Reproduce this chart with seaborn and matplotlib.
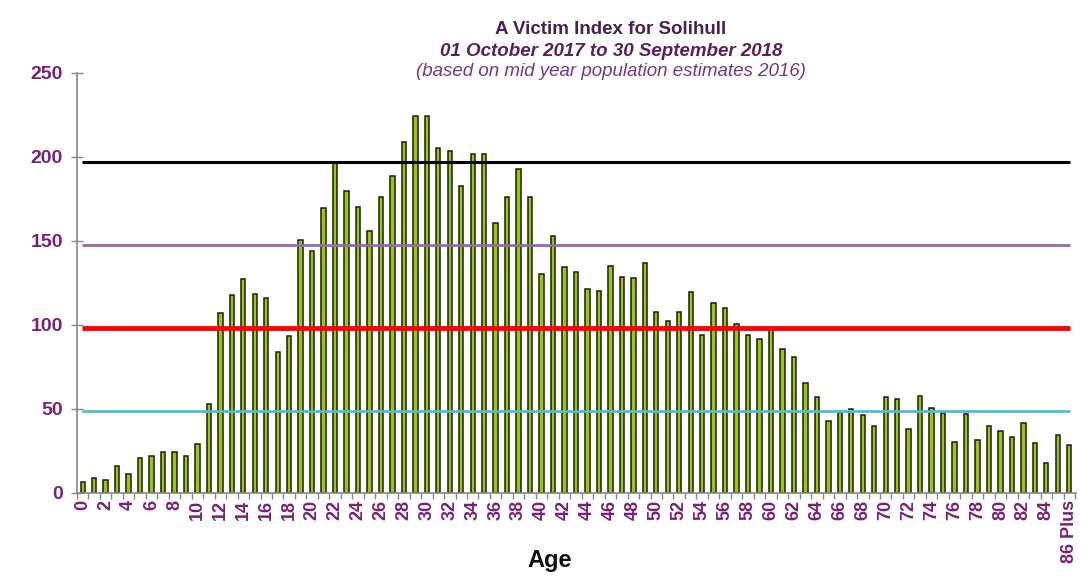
import numpy as np
import pandas as pd
import seaborn as sns
import matplotlib
matplotlib.use("Agg")
import matplotlib.pyplot as plt

# victim index per age (0..85, then 86 plus)
ages = [str(a) for a in range(86)] + ["86 Plus"]
index_values = [
  6.7, 9.1, 7.7, 16.2, 11.3, 20.8, 21.8, 24.6, 24.2, 21.8,
  28.9, 53.1, 107.4, 118.1, 127.2, 118.7, 116.1, 83.8, 93.5, 150.6,
  144.2, 169.4, 196.5, 179.9, 170.4, 155.9, 175.9, 188.4, 209.0, 224.2,
  224.2, 205.4, 203.4, 182.8, 202.0, 201.5, 160.5, 176.3, 193.0, 175.9,
  130.3, 152.9, 134.3, 131.3, 121.2, 120.2, 135.3, 128.8, 127.8, 136.7,
  107.8, 102.6, 107.8, 119.7, 93.9, 112.8, 110.1, 100.6, 94.1, 91.7,
  98.1, 85.6, 81.0, 65.4, 57.1, 42.6, 48.1, 50.1, 46.6, 40.0,
  57.1, 56.1, 38.0, 57.6, 50.7, 47.5, 30.3, 47.1, 31.3, 39.8,
  37.0, 33.5, 41.6, 29.9, 17.8, 34.3, 28.3,
]
# reference lines: 200%, 150%, 100%, 50% of the average
ref_levels = [197.0, 147.8, 98.3, 49.0]
ref_colors = ["#000000", "#8e6bb5", "#ff0000", "#4bbfd6"]
ref_widths = [2.2, 2.0, 3.5, 2.0]

df = pd.DataFrame({"age": ages, "index": index_values})

sns.set_theme()
sns.set_style("white")
plt.rcParams['font.family'] = ['Liberation Sans', 'DejaVu Sans']

purple = "#7a1f7a"
fig = plt.figure(figsize=(10.81, 5.81), dpi=100)
ax = fig.add_axes([0.0712, 0.1515, 0.9243, 0.7229])

sns.barplot(data=df, x="age", y="index", color="#99cc00", width=0.38,
            edgecolor="#1a1a1a", linewidth=1.1, saturation=1, ax=ax)

for lvl, c, lw in zip(ref_levels, ref_colors, ref_widths):
  ax.plot([-0.1, 86.1], [lvl, lvl], color=c, lw=lw, solid_capstyle="butt", zorder=3)

ax.set_xlim(-0.44, 86.6)
ax.set_ylim(0, 250)
ax.set_yticks([0, 50, 100, 150, 200, 250])
ax.tick_params(axis="y", left=True, labelsize=14, labelcolor=purple, direction="inout",
               length=8, color="#888888", width=1, pad=6)
for t in ax.get_yticklabels():
  t.set_fontweight("bold")

ticks = list(range(0, 86, 2)) + [86]
ax.set_xticks(ticks)
ax.set_xticklabels([ages[i] for i in ticks], rotation=90, fontsize=13,
                   fontweight="bold", color=purple)
ax.set_xticks(np.arange(-0.5, 87, 1), minor=True)
ax.tick_params(axis="x", which="major", length=0, pad=5)
ax.tick_params(axis="x", which="minor", length=4, color="#888888", width=1, bottom=True)

for s in ["top", "right"]:
  ax.spines[s].set_visible(False)
for s in ["left", "bottom"]:
  ax.spines[s].set_color("#888888")
  ax.spines[s].set_linewidth(1.2)

ax.set_ylabel("")
ax.set_xlabel("")
fig.text(550 / 1081, 1 - 560 / 581, "Age", ha="center", va="center",
         fontsize=17, fontweight="bold", color="#111111")

fig.text(0.565, 1 - 30 / 581, "A Victim Index for Solihull", ha="center", va="center",
         fontsize=13.5, fontweight="bold", color="#4b1e52")
fig.text(0.565, 1 - 51 / 581, "01 October 2017 to 30 September 2018", ha="center", va="center",
         fontsize=13.5, fontweight="bold", fontstyle="italic", color="#5a1f5e")
fig.text(0.565, 1 - 72 / 581, "(based on mid year population estimates 2016)", ha="center", va="center",
         fontsize=13.5, fontstyle="italic", color="#74368a")

fig.savefig("out.png", dpi=100)
